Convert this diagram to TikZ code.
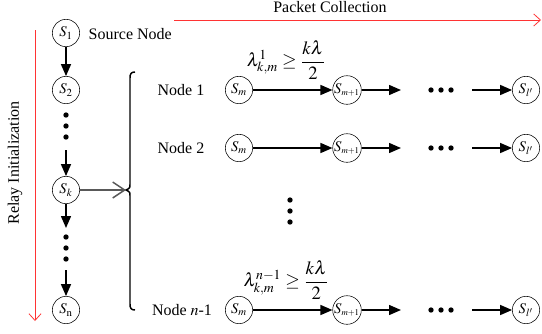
\documentclass[tikz,border=0pt]{standalone}
\usepackage{mathptmx}
\usepackage{fontspec}
\setmainfont{Liberation Serif}
\usetikzlibrary{arrows.meta}

\begin{document}
\begin{tikzpicture}[x=0.75pt,y=-0.75pt,
        font=\fontsize{12}{14}\selectfont,
        stn/.style={draw,circle,inner sep=0pt,minimum size=20.5pt,font=\fontsize{11}{12}\selectfont},
        hop/.style={-{Triangle[length=9pt,width=7.5pt]},line width=1.1pt},
        phase/.style={draw=red!80!white,line width=0.6pt,-{Straight Barb[length=5pt,width=9pt]}},
        pdot/.style={circle,fill,inner sep=0pt,minimum size=4pt}]
    \useasboundingbox (0,0) rectangle (542,333);

    % relay initialization
    \node[stn] (s1) at (66,33) {$S_{\mathrm{1}}$};
    \node[anchor=west] (src) at (84,34) {Source Node};
    \node[stn] (s2) at (66,90) {$S_{\mathrm{2}}$};
    \node[pdot] (da1) at (66,115) {};
    \node[pdot] (da2) at (66,126) {};
    \node[pdot] (da3) at (66,137) {};
    \node[stn] (sk) at (66,190) {$S_k$};
    \node[pdot] (db1) at (66,237) {};
    \node[pdot] (db2) at (66,248) {};
    \node[pdot] (db3) at (66,259) {};
    \node[stn] (sn) at (66,310) {$S_{\mathrm{n}}$};

    \coordinate (ua) at (66,150);
    \coordinate (ub) at (66,228);
    \coordinate (uc) at (66,270);
    \draw[hop] (s1) -- (s2);
    \draw[hop] (ua) -- (sk);
    \draw[hop] (sk) -- (ub);
    \draw[hop] (uc) -- (sn);

    \coordinate (ri0) at (35,30);
    \coordinate (ri1) at (35,321);
    \draw[phase] (ri0) -- (ri1);
    \node[rotate=90] (ril) at (15,163) {Relay Initialization};

    % packet collection
    \coordinate (pc0) at (174,20);
    \coordinate (pc1) at (541,20);
    \draw[phase] (pc0) -- (pc1);
    \node (pcl) at (330,7) {Packet Collection};

    % brace
    \coordinate (btip) at (126,190);
    \draw[line width=1.1pt] (135,72) .. controls (131,72) and (130,74) .. (130,78)
        -- (130,184) .. controls (130,188) .. (btip)
        .. controls (130,192) .. (130,196)
        -- (130,304) .. controls (130,308) and (131,310) .. (135,310);
    \draw[line width=1.1pt,black!65,-{Straight Barb[length=9pt,width=12pt,line width=1.1pt]}] (sk) -- (btip);

    % node 1
    \node (n1) at (181,90) {Node 1};
    \node[stn] (m1) at (239,90) {$S_m$};
    \node[stn] (p1) at (347,90) {$S_{\scriptscriptstyle m+1}$};
    \node[stn] (l1) at (526,90) {$S_{l'}$};
    \coordinate (e1) at (401,90);
    \coordinate (f1) at (472,90);
    \node[pdot] (q1a) at (431,90) {};
    \node[pdot] (q1b) at (441,90) {};
    \node[pdot] (q1c) at (451,90) {};
    \draw[hop] (m1) -- (p1);
    \draw[hop] (p1) -- (e1);
    \draw[hop] (f1) -- (l1);
    \node[font=\fontsize{14}{16}\selectfont] (lam1) at (286,60) {$\displaystyle \lambda^{1}_{k,m}\geq\frac{k\lambda}{2}$};

    % node 2
    \node (n2) at (181,148) {Node 2};
    \node[stn] (m2) at (239,148) {$S_m$};
    \node[stn] (p2) at (347,148) {$S_{\scriptscriptstyle m+1}$};
    \node[stn] (l2) at (526,148) {$S_{l'}$};
    \coordinate (e2) at (401,148);
    \coordinate (f2) at (472,148);
    \node[pdot] (q2a) at (431,148) {};
    \node[pdot] (q2b) at (441,148) {};
    \node[pdot] (q2c) at (451,148) {};
    \draw[hop] (m2) -- (p2);
    \draw[hop] (p2) -- (e2);
    \draw[hop] (f2) -- (l2);

    \node[pdot] (v1) at (290,200) {};
    \node[pdot] (v2) at (290,211) {};
    \node[pdot] (v3) at (290,222) {};

    % node n-1
    \node (n3) at (182,310) {Node $n$-1};
    \node[stn] (m3) at (239,310) {$S_m$};
    \node[stn] (p3) at (347,310) {$S_{\scriptscriptstyle m+1}$};
    \node[stn] (l3) at (526,310) {$S_{l'}$};
    \coordinate (e3) at (401,310);
    \coordinate (f3) at (472,310);
    \node[pdot] (q3a) at (431,310) {};
    \node[pdot] (q3b) at (441,310) {};
    \node[pdot] (q3c) at (451,310) {};
    \draw[hop] (m3) -- (p3);
    \draw[hop] (p3) -- (e3);
    \draw[hop] (f3) -- (l3);
    \node[font=\fontsize{14}{16}\selectfont] (lam3) at (286,280) {$\displaystyle \lambda^{n-1}_{k,m}\geq\frac{k\lambda}{2}$};
\end{tikzpicture}
\end{document}
